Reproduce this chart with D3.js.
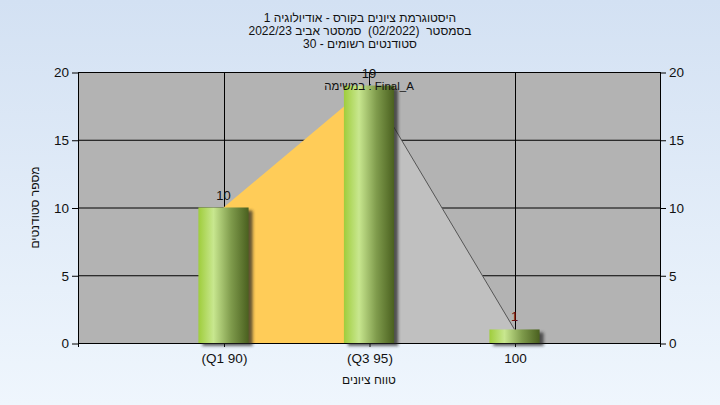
<!DOCTYPE html>
<html><head><meta charset="utf-8">
<script src="https://cdn.jsdelivr.net/npm/d3@7"></script>
<style>body{margin:0;padding:0;overflow:hidden}svg{display:block}</style>
</head><body>
<svg id="c" width="720" height="405"></svg>
<script>
const categories = ["(Q1 90)", "(Q3 95)", "100"];
const values = [10, 19, 1];
const yTicks = [0, 5, 10, 15, 20];
const titleLines = ["היסטוגרמת ציונים בקורס - אודיולוגיה 1", "בסמסטר  (02/2022)  סמסטר אביב 2022/23", "סטודנטים רשומים - 30"];
const annotation = "במשימה : Final_A";
const xTitle = "טווח ציונים";
const yTitle = "מספר סטודנטים";

const svg = d3.select("#c");
const W = 720, H = 405;
const L = 78, R = 660, T = 72, B = 343;
const font = "'Liberation Sans', Arial, sans-serif";

const defs = svg.append("defs");
const bg = defs.append("linearGradient").attr("id","bg").attr("x1",0).attr("y1",0).attr("x2",0).attr("y2",1);
bg.append("stop").attr("offset","0%").attr("stop-color","#d3e1f3");
bg.append("stop").attr("offset","100%").attr("stop-color","#eff6fd");
const bar = defs.append("linearGradient").attr("id","bar").attr("x1",0).attr("y1",0).attr("x2",1).attr("y2",0);
bar.append("stop").attr("offset","0%").attr("stop-color","#9fcd3c");
bar.append("stop").attr("offset","30%").attr("stop-color","#c8e78f");
bar.append("stop").attr("offset","65%").attr("stop-color","#7f9b4c");
bar.append("stop").attr("offset","100%").attr("stop-color","#4a601f");
const f = defs.append("filter").attr("id","blur").attr("x","-50%").attr("y","-50%").attr("width","200%").attr("height","200%");
f.append("feGaussianBlur").attr("stdDeviation",1.8);

svg.append("rect").attr("width",W).attr("height",H).attr("fill","url(#bg)");

const x = d3.scalePoint().domain(categories).range([L, R]).padding(1);
const y = d3.scaleLinear().domain([0, 20]).range([B, T]);
const bw = x.step() * 0.345;

// plot background
svg.append("rect").attr("x",L).attr("y",T).attr("width",R-L).attr("height",B-T).attr("fill","#b3b3b3");

// grid
svg.append("g").selectAll("line").data(yTicks).join("line")
  .attr("x1",L).attr("x2",R).attr("y1",d=>y(d)+0.5).attr("y2",d=>y(d)+0.5)
  .attr("stroke","#000").attr("stroke-width",1);
svg.append("g").selectAll("line").data(categories).join("line")
  .attr("x1",d=>Math.round(x(d))+0.5).attr("x2",d=>Math.round(x(d))+0.5).attr("y1",T).attr("y2",B)
  .attr("stroke","#000").attr("stroke-width",1);

// areas
const pts = categories.map((c,i)=>({c, v: values[i]}));
const area = d3.area().x(d=>x(d.c)).y0(y(0)).y1(d=>y(d.v));
svg.append("path").datum(pts.slice(0,2)).attr("d",area).attr("fill","#ffcc58");
svg.append("path").datum(pts.slice(1,3)).attr("d",area).attr("fill","#c0c0c0");
svg.append("path").datum(pts.slice(1,3)).attr("d",d3.line().x(d=>x(d.c)).y(d=>y(d.v)))
  .attr("fill","none").attr("stroke","#555").attr("stroke-width",1);

// axes
const yl = d3.axisLeft(y).tickValues(yTicks).tickSize(6).tickPadding(3);
const yr = d3.axisRight(y).tickValues(yTicks).tickSize(6).tickPadding(3);
const xb = d3.axisBottom(x).tickSize(4).tickPadding(6);
function style(g){
  g.select(".domain").remove();
  g.selectAll("line").attr("stroke","#000");
  g.selectAll("text").attr("font-family",font).attr("font-size",13.5).attr("fill","#111");
}
svg.append("g").attr("transform",`translate(${L},0.5)`).call(yl).call(style);
svg.append("g").attr("transform",`translate(${R},0.5)`).call(yr).call(style);
svg.append("g").attr("transform",`translate(0.5,${B})`).call(xb).call(style);
svg.append("line").attr("x1",L+0.5).attr("x2",L+0.5).attr("y1",T).attr("y2",B+4).attr("stroke","#000");
svg.append("line").attr("x1",R+0.5).attr("x2",R+0.5).attr("y1",T).attr("y2",B+4).attr("stroke","#000");
svg.append("line").attr("x1",L).attr("x2",R+1).attr("y1",B+0.5).attr("y2",B+0.5).attr("stroke","#000");
svg.append("line").attr("x1",L).attr("x2",R+1).attr("y1",T+0.5).attr("y2",T+0.5).attr("stroke","#000");

// bars with shadow
const bars = svg.append("g");
bars.selectAll("rect.sh").data(pts).join("rect").attr("class","sh")
  .attr("x",d=>x(d.c)-bw/2+4).attr("y",d=>y(d.v)+3)
  .attr("width",bw).attr("height",d=>y(0)-y(d.v))
  .attr("fill","#222").attr("opacity",0.7).attr("filter","url(#blur)");
bars.selectAll("rect.b").data(pts).join("rect").attr("class","b")
  .attr("x",d=>x(d.c)-bw/2).attr("y",d=>y(d.v))
  .attr("width",bw).attr("height",d=>y(0)-y(d.v))
  .attr("fill","url(#bar)");

// value labels
svg.append("g").selectAll("text").data(pts).join("text")
  .attr("x",d=>x(d.c)).attr("y",d=>y(d.v)-8)
  .attr("text-anchor","middle").attr("font-family",font).attr("font-size",13)
  .attr("fill",d=>d.v < 5 ? "#6a1010" : "#111").text(d=>d.v);
svg.append("line").attr("x1",x(categories[1])+0.5).attr("x2",x(categories[1])+0.5)
  .attr("y1",T).attr("y2",y(values[1])-5).attr("stroke","#111");

// annotation
svg.append("text").attr("x",(L+R)/2).attr("y",90).attr("text-anchor","middle")
  .attr("font-family",font).attr("font-size",11.5).attr("fill","#111").attr("direction","ltr")
  .text(annotation);

// title
svg.append("g").selectAll("text").data(titleLines).join("text")
  .attr("x",W/2).attr("y",(d,i)=>22+i*13).attr("text-anchor","middle")
  .attr("direction","rtl").style("unicode-bidi","plaintext").style("white-space","pre")
  .attr("font-family",font).attr("font-size",12).attr("fill","#111").text(d=>d);

// axis titles
svg.append("text").attr("x",x(categories[1])).attr("y",384).attr("text-anchor","middle")
  .attr("font-family",font).attr("font-size",12).attr("fill","#111").text(xTitle);
svg.append("text").attr("transform",`translate(39,${(T+B)/2}) rotate(-90)`).attr("text-anchor","middle")
  .attr("font-family",font).attr("font-size",12).attr("fill","#111").text(yTitle);
</script>
</body></html>
